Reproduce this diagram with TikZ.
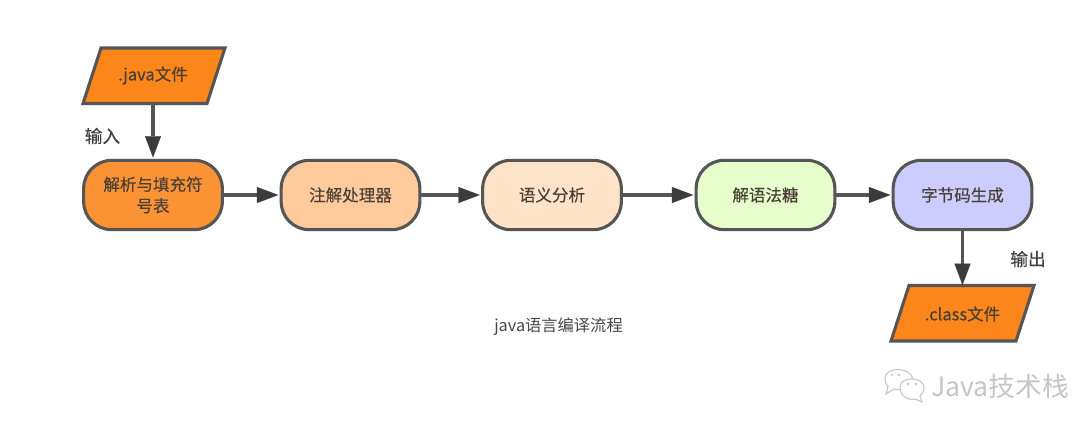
\documentclass[tikz,border=0pt]{standalone}
\usepackage{fontspec}
\setmainfont{Liberation Sans}
\newfontfamily\cjk{Noto Sans CJK SC}
\newfontfamily\cjkheavy[FakeBold=0.35]{Noto Sans CJK SC}
\usetikzlibrary{arrows.meta}
\definecolor{edge}{HTML}{555555}
\definecolor{headc}{HTML}{3C3C3C}
\definecolor{inkc}{HTML}{4A4036}
\definecolor{fileorange}{HTML}{FD861B}
\definecolor{parsefill}{HTML}{FB9335}
\definecolor{annofill}{HTML}{FFCA9C}
\definecolor{semfill}{HTML}{FFE3C8}
\definecolor{sugarfill}{HTML}{E6FDCC}
\definecolor{genfill}{HTML}{CCCCFE}
\definecolor{markgrey}{HTML}{C6C6C6}
\tikzset{
  x=0.75pt,y=-0.75pt,
  every node/.style={font=\fontsize{12.4}{16}\selectfont\cjkheavy,text=inkc,inner sep=0pt,align=center},
  phase/.style={draw=edge,line width=2.3pt,rounded corners=21pt,minimum width=104pt,minimum height=52pt,text width=82pt},
  filebox/.style={minimum width=93pt,minimum height=41pt},
  fileshape/.style={draw=edge,line width=2.3pt,fill=fileorange,line join=miter},
  flow/.style={draw=edge,line width=2.4pt,-{Triangle[length=16pt,width=12pt,color=headc,fill=headc,line width=0.2pt]},shorten >=1pt},
  note/.style={font=\fontsize{13.2}{16}\selectfont\cjkheavy,text=black!75},
  bubble/.style={draw=markgrey,line width=0.8pt,fill=white},
}
\begin{document}
\begin{tikzpicture}
  \useasboundingbox (0,0) rectangle (1077,423);
  \fill[white] (0,0) rectangle (1077,423);

  % input and output files
  \draw[fileshape] (101,48) -- (225,48) -- (207,103.5) -- (83,103.5) -- cycle;
  \draw[fileshape] (909,285.5) -- (1034,285.5) -- (1016,341) -- (891,341) -- cycle;
  \node[filebox] (java) at (153,75.5) {.java文件};
  \node[filebox] (class) at (962.5,314) {.class文件};

  % compiler phases
  \node[phase,fill=parsefill] (parse) at (153,195) {解析与填充符\\号表};
  \node[phase,fill=annofill] (anno) at (350.5,195) {注解处理器};
  \node[phase,fill=semfill] (sem) at (552,195) {语义分析};
  \node[phase,fill=sugarfill] (sugar) at (765.5,195) {解语法糖};
  \node[phase,fill=genfill] (gen) at (962.5,195) {字节码生成};

  % flow between phases
  \draw[flow] (java) -- (parse);
  \draw[flow] (parse) -- (anno);
  \draw[flow] (anno) -- (sem);
  \draw[flow] (sem) -- (sugar);
  \draw[flow] (sugar) -- (gen);
  \draw[flow] (gen) -- (class);

  % annotations
  \node[note] (inlabel) at (102.5,136) {输入};
  \node[note] (outlabel) at (1028,259) {输出};
  \node[font=\fontsize{12.2}{15}\selectfont\cjk,text=black!72] (caption) at (558.5,327) {java语言编译流程};

  % account mark: two speech bubbles and the account name
  \draw[bubble] (885,378) .. controls (885,367) and (910,366) .. (913,379) .. controls (914,388) and (901,391) .. (894,389) -- (886,394) -- (888,386) .. controls (885,384) and (885,381) .. (885,378) -- cycle;
  \draw[bubble] (900,387) .. controls (900,376) and (924,376) .. (924,388) .. controls (924,392) and (922,394) .. (920,396) -- (922,402) -- (915,399) .. controls (907,401) and (900,395) .. (900,387) -- cycle;
  \fill[markgrey] (892,375) circle (1pt) (899,375) circle (1pt) (908,384) circle (1pt) (916,384) circle (1pt);
  \node[font=\fontsize{20}{22}\selectfont\cjk,text=markgrey] (brand) at (1000,386) {Java技术栈};
\end{tikzpicture}
\end{document}
